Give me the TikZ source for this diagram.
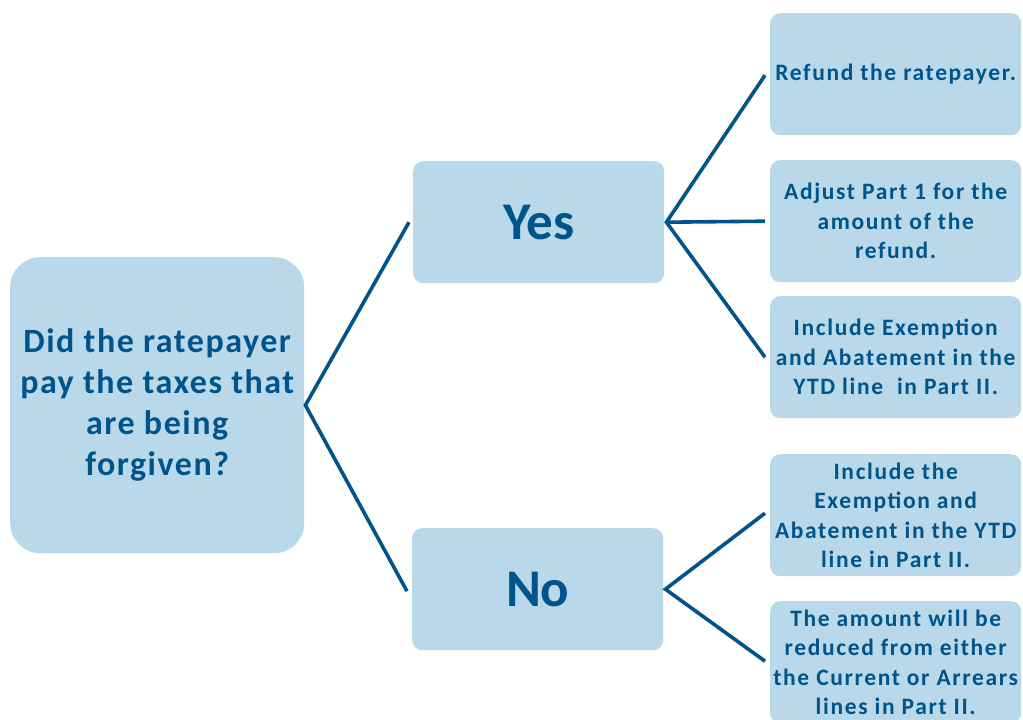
\documentclass[tikz,border=0pt]{standalone}
\usepackage{fontspec}
\setmainfont{Carlito}
\newfontfamily\askfont[LetterSpace=4.5]{Carlito}
\newfontfamily\actfont[LetterSpace=7]{Carlito}
\definecolor{boxfill}{RGB}{185,216,234}
\definecolor{inkblue}{RGB}{0,84,140}
\definecolor{wireblue}{RGB}{0,84,140}
\begin{document}
\begin{tikzpicture}[x=1pt,y=-1pt,
  card/.style={fill=boxfill, draw=none, rounded corners=10pt, align=center,
    text=inkblue, font=\bfseries, inner sep=0pt, anchor=north west},
  wire/.style={draw=wireblue, line width=3.6pt, line cap=butt, line join=miter}]
\clip (0,0) rectangle (1023,720);
\useasboundingbox (0,0) rectangle (1023,720);

% question box
\node[card, rounded corners=30pt, minimum width=294pt, minimum height=296pt,
  font=\askfont\bfseries\fontsize{34}{41}\selectfont] (q) at (10,257)
  {Did the ratepayer\\pay the taxes that\\are being\\forgiven?};

% answer boxes
\node[card, minimum width=251pt, minimum height=122pt,
  font=\bfseries\fontsize{53}{60}\selectfont] (yes) at (413,161) {Yes};
\node[card, minimum width=251pt, minimum height=122pt,
  font=\bfseries\fontsize{53}{60}\selectfont] (no) at (412,528) {No};

% action boxes
\tikzset{act/.style={card, minimum width=251pt, minimum height=122pt,
  font=\actfont\bfseries\fontsize{23.5}{29.5}\selectfont}}
\node[act] (r1) at (770,13) {Refund the ratepayer.};
\node[act] (r2) at (770,160) {Adjust Part 1 for the\\amount of the\\refund.};
\node[act] (r3) at (770,296) {Include Exemption\\and Abatement in the\\YTD line\ \ in Part II.};
\node[act] (r4) at (770,454) {Include the\\Exemption and\\Abatement in the YTD\\line in Part II.};
\node[act] (r5) at (770,601) {The amount will be\\reduced from either\\the Current or Arrears\\lines in Part II.};

% branches
\draw[wire] ([xshift=-4pt]yes.west) -- ([xshift=1pt]q.east) -- ([xshift=-5pt,yshift=-2pt]no.west);
\draw[wire] ([xshift=-5pt,yshift=-1pt]r1.west) -- ([xshift=2pt]yes.east) -- ([xshift=-5pt]r3.west);
\draw[wire] ([xshift=2pt]yes.east) -- ([xshift=-5pt]r2.west);
\draw[wire] ([xshift=-5pt,yshift=2pt]r4.west) -- ([xshift=2pt]no.east) -- ([xshift=-5pt,yshift=1pt]r5.west);
\end{tikzpicture}
\end{document}
